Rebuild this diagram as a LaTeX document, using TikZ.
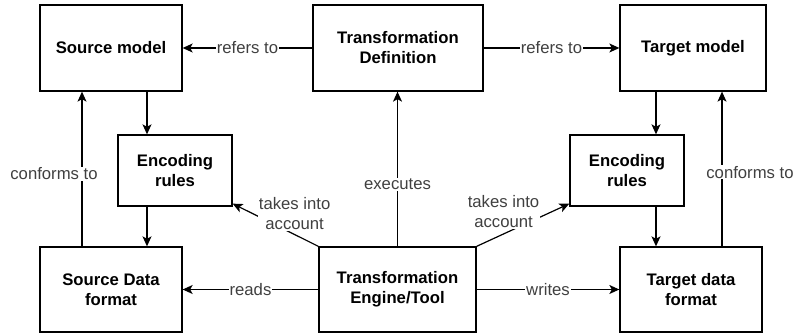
\documentclass[tikz,border=0pt]{standalone}
\usepackage{fontspec}
\setmainfont{Liberation Sans}
\usetikzlibrary{arrows.meta}

\begin{document}
\begin{tikzpicture}[
		x=1pt, y=-1pt,
		every node/.style={font=\fontsize{16.7}{20}\selectfont},
		box/.style={rectangle, draw, line width=1.3pt, align=center, font=\fontsize{16.7}{20}\selectfont\bfseries},
		lbl/.style={fill=white, inner sep=1pt, text=black!75, align=center},
		arr/.style={line width=1.2pt, -{Stealth[length=10pt, width=9pt, inset=2.5pt]}}
	]
  \useasboundingbox (0,0) rectangle (793,336);
  \node (sm) [box, minimum width=142pt, minimum height=86pt] at (111,48) {Source model};
  \node (td) [box, minimum width=170pt, minimum height=86pt] at (398,48) {Transformation\\Definition};
  \node (tm) [box, minimum width=146pt, minimum height=86pt] at (693,48) {Target model};
  \node (encL) [box, minimum width=114pt, minimum height=71pt] at (175,170.5) {Encoding\\rules};
  \node (encR) [box, minimum width=114pt, minimum height=71pt] at (627,170.5) {Encoding\\rules};
  \node (sdf) [box, minimum width=142pt, minimum height=85pt] at (111,289.5) {Source Data\\format};
  \node (eng) [box, minimum width=157pt, minimum height=85pt] at (397.5,289.5) {Transformation\\Engine/Tool};
  \node (tdf) [box, minimum width=142pt, minimum height=85pt] at (691,289.5) {Target data\\format};
  % top row
  \draw[arr] (td.west) -- node[lbl] {refers to} (sm.east);
  \draw[arr] (td.east) -- node[lbl] {refers to} (tm.west);
  % source side
  \draw[arr] ([xshift=36pt]sm.south) -- ([xshift=36pt]sm.south |- encL.north);
  \draw[arr] ([xshift=-28pt]encL.south) -- ([xshift=-28pt]encL.south |- sdf.north);
  \draw[arr] ([xshift=-29pt]sdf.north) -- node[lbl, pos=0.47, xshift=-28pt] {conforms to} ([xshift=-29pt]sdf.north |- sm.south);
  % target side
  \draw[arr] ([xshift=-37pt]tm.south) -- ([xshift=-37pt]tm.south |- encR.north);
  \draw[arr] ([xshift=29pt]encR.south) -- ([xshift=29pt]encR.south |- tdf.north);
  \draw[arr] ([xshift=31pt]tdf.north) -- node[lbl, pos=0.48, xshift=28pt] {conforms to} ([xshift=31pt]tdf.north |- tm.south);
  % engine
  \draw[arr] (eng.north) -- node[lbl, pos=0.4] {executes} (eng.north |- td.south);
  \draw[arr] (eng.west) -- node[lbl] {reads} (sdf.east);
  \draw[arr] (eng.east) -- node[lbl] {writes} (tdf.west);
  \draw[arr] (eng.north west) -- node[lbl, pos=0.3, xshift=2pt, yshift=20pt] {takes into\\account} ([yshift=3pt]encL.south east);
  \draw[arr] (eng.north east) -- node[lbl, pos=0.29, yshift=22pt] {takes into\\account} ([yshift=3pt]encR.south west);
\end{tikzpicture}
\end{document}
